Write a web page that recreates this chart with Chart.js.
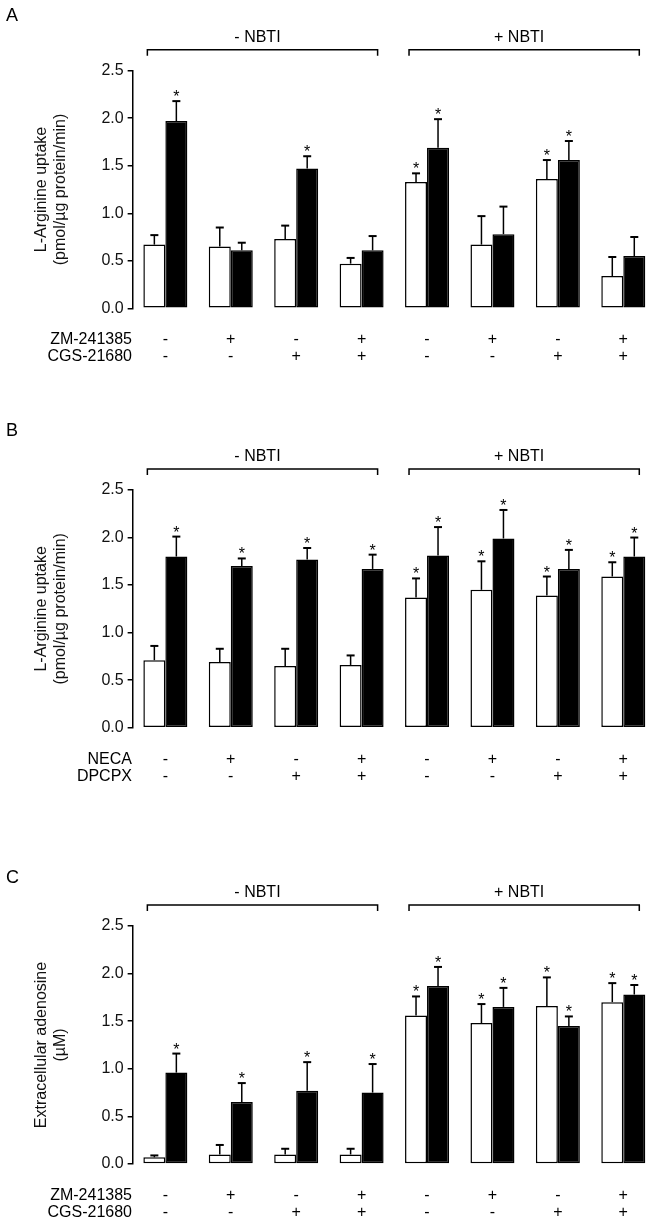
<!DOCTYPE html>
<html>
<head>
<meta charset="utf-8">
<script src="https://cdn.jsdelivr.net/npm/chart.js@4"></script>
<style>
  html, body { margin: 0; padding: 0; background: #fff; overflow: hidden; width: 652px; height: 1223px; }
  .panel { position: absolute; left: 0; width: 656px; }
</style>
</head>
<body>
<div class="panel" style="top:0px;height:380px"><canvas id="chartA"></canvas></div>
<div class="panel" style="top:400px;height:400px"><canvas id="chartB"></canvas></div>
<div class="panel" style="top:820px;height:403px"><canvas id="chartC"></canvas></div>
<script>
// 8 conditions: 4 without NBTI, 4 with NBTI
const categories = ["1", "2", "3", "4", "5", "6", "7", "8"];
const yTicks = [0, 0.5, 1.0, 1.5, 2.0, 2.5];
const groupLabels = ["- NBTI", "+ NBTI"];

// panel A
const whiteA = [0.67, 0.65, 0.73, 0.47, 1.33, 0.67, 1.36, 0.34];
const whiteErrA = [0.77, 0.85, 0.87, 0.53, 1.42, 0.97, 1.56, 0.54];
const blackA = [1.97, 0.61, 1.47, 0.61, 1.69, 0.78, 1.56, 0.55];
const blackErrA = [2.18, 0.69, 1.60, 0.76, 1.99, 1.07, 1.76, 0.75];
const starWhiteA = [0, 0, 0, 0, 1, 0, 1, 0];
const starBlackA = [1, 0, 1, 0, 1, 0, 1, 0];

// panel B
const whiteB = [0.71, 0.69, 0.65, 0.66, 1.37, 1.45, 1.39, 1.59];
const whiteErrB = [0.86, 0.83, 0.83, 0.76, 1.57, 1.75, 1.59, 1.74];
const blackB = [1.80, 1.70, 1.77, 1.67, 1.81, 1.99, 1.67, 1.80];
const blackErrB = [2.01, 1.78, 1.89, 1.82, 2.11, 2.29, 1.87, 2.00];
const starWhiteB = [0, 0, 0, 0, 1, 1, 1, 1];
const starBlackB = [1, 1, 1, 1, 1, 1, 1, 1];

// panel C
const whiteC = [0.07, 0.10, 0.10, 0.10, 1.56, 1.48, 1.66, 1.70];
const whiteErrC = [0.09, 0.20, 0.16, 0.16, 1.76, 1.68, 1.96, 1.90];
const blackC = [0.96, 0.65, 0.77, 0.75, 1.87, 1.65, 1.45, 1.78];
const blackErrC = [1.16, 0.85, 1.07, 1.05, 2.07, 1.85, 1.55, 1.88];
const starWhiteC = [0, 0, 0, 0, 1, 1, 1, 1];
const starBlackC = [1, 1, 1, 1, 1, 1, 1, 1];

// treatment rows under the bars
const signsRow1 = ["-", "+", "-", "+", "-", "+", "-", "+"];
const signsRow2 = ["-", "-", "+", "+", "-", "-", "+", "+"];
const rowNamesA = ["ZM-241385", "CGS-21680"];
const rowNamesB = ["NECA", "DPCPX"];
const rowNamesC = ["ZM-241385", "CGS-21680"];

const FONT = "'Liberation Sans', Arial, sans-serif";

// error bars, stars, brackets, treatment rows, panel letter
const extras = {
  id: "extras",
  afterDatasetsDraw(chart, args, opts) {
    const ctx = chart.ctx;
    const y = chart.scales.y;
    ctx.save();
    ctx.strokeStyle = "#000";
    ctx.fillStyle = "#000";
    chart.data.datasets.forEach((ds, di) => {
      const meta = chart.getDatasetMeta(di);
      meta.data.forEach((bar, i) => {
        const ey = y.getPixelForValue(ds.errTop[i]);
        ctx.lineWidth = 1.5;
        ctx.beginPath();
        ctx.moveTo(bar.x, bar.y);
        ctx.lineTo(bar.x, ey);
        ctx.stroke();
        ctx.lineWidth = 2;
        ctx.beginPath();
        ctx.moveTo(bar.x - 4, ey);
        ctx.lineTo(bar.x + 4, ey);
        ctx.stroke();
        if (ds.stars[i]) {
          ctx.font = "16px " + FONT;
          ctx.textAlign = "center";
          ctx.textBaseline = "alphabetic";
          ctx.fillText("*", bar.x, ey + 1);
        }
      });
    });
    ctx.restore();
  },
  afterDraw(chart, args, opts) {
    const ctx = chart.ctx;
    const x = chart.scales.x;
    const area = chart.chartArea;
    ctx.save();
    ctx.fillStyle = "#000";
    ctx.strokeStyle = "#000";
    ctx.lineWidth = 1.5;

    // group brackets
    const spans = [[0, 3], [4, 7]];
    spans.forEach((s, k) => {
      const x1 = x.getPixelForValue(s[0]) - 18;
      const x2 = x.getPixelForValue(s[1]) + 16;
      const by = area.top - 21;
      ctx.beginPath();
      ctx.moveTo(x1, by + 6);
      ctx.lineTo(x1, by);
      ctx.lineTo(x2, by);
      ctx.lineTo(x2, by + 6);
      ctx.stroke();
      ctx.font = "16px " + FONT;
      ctx.textAlign = "center";
      ctx.textBaseline = "middle";
      ctx.fillText(groupLabels[k], (x1 + x2) / 2 - 5, area.top - 33);
    });

    // treatment rows
    ctx.font = "16px " + FONT;
    ctx.textBaseline = "middle";
    [signsRow1, signsRow2].forEach((row, r) => {
      const ry = area.bottom + 31.5 + r * 17;
      ctx.textAlign = "right";
      ctx.fillText(opts.rowNames[r], 132, ry);
      ctx.textAlign = "center";
      row.forEach((sg, i) => ctx.fillText(sg, x.getPixelForValue(i), ry));
    });

    // panel letter
    ctx.font = "18px " + FONT;
    ctx.textAlign = "left";
    ctx.textBaseline = "middle";
    ctx.fillText(opts.letter, 6, opts.letterY);
    ctx.restore();
  }
};

function makePanel(id, white, whiteErr, black, blackErr, starW, starB, yTitle, rowNames, letter, letterY, padTop, padBottom) {
  new Chart(document.getElementById(id), {
    type: "bar",
    data: {
      labels: categories,
      datasets: [{
        data: white,
        errTop: whiteErr,
        stars: starW,
        backgroundColor: "#fff",
        borderColor: "#000",
        borderWidth: 1.5,
        borderSkipped: false
      }, {
        data: black,
        errTop: blackErr,
        stars: starB,
        backgroundColor: "#000",
        borderColor: "#000",
        borderWidth: 1.5,
        borderSkipped: false
      }]
    },
    options: {
      responsive: true,
      maintainAspectRatio: false,
      animation: false,
      events: [],
      categoryPercentage: 0.6725,
      barPercentage: 1.0,
      layout: { padding: { top: padTop, bottom: padBottom, left: 0, right: 0 } },
      plugins: {
        legend: { display: false },
        tooltip: { enabled: false },
        extras: { rowNames: rowNames, letter: letter, letterY: letterY }
      },
      scales: {
        x: { display: false },
        y: {
          min: 0,
          max: 2.5,
          afterBuildTicks: axis => { axis.ticks = yTicks.map(v => ({ value: v })); },
          ticks: {
            padding: 4,
            color: "#111",
            font: { family: FONT, size: 16 },
            callback: v => Number(v).toFixed(1)
          },
          grid: { drawOnChartArea: false, drawTicks: true, tickLength: 5, color: "#000", lineWidth: 1.5 },
          border: { display: true, color: "#000", width: 1.5 },
          title: {
            display: true,
            text: yTitle,
            color: "#111",
            font: { family: FONT, size: 16 },
            padding: { top: 32, bottom: 27 }
          }
        }
      }
    },
    plugins: [extras]
  });
}

makePanel("chartA", whiteA, whiteErrA, blackA, blackErrA, starWhiteA, starBlackA,
  ["L-Arginine uptake", "(pmol/\u00b5g protein/min)"], rowNamesA, "A", 16, 70.7, 380 - 308.3);
makePanel("chartB", whiteB, whiteErrB, blackB, blackErrB, starWhiteB, starBlackB,
  ["L-Arginine uptake", "(pmol/\u00b5g protein/min)"], rowNamesB, "B", 31, 90, 400 - 327.7);
makePanel("chartC", whiteC, whiteErrC, blackC, blackErrC, starWhiteC, starBlackC,
  ["Extracellular adenosine", "(\u00b5M)"], rowNamesC, "C", 58, 106, 403 - 344);
</script>
</body>
</html>
